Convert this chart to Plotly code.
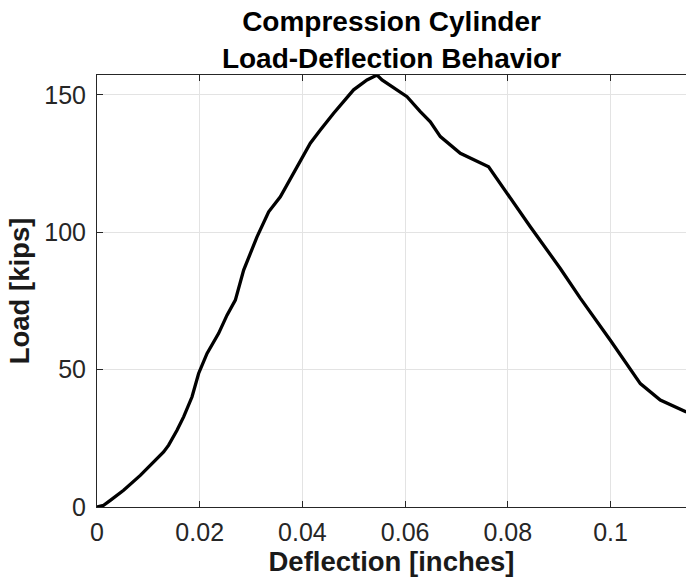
import plotly.graph_objects as go

deflection = [0.0, 0.00129, 0.00259, 0.00518, 0.00843, 0.01103, 0.01297, 0.01395,
              0.01558, 0.01687, 0.01851, 0.01979, 0.02143, 0.02369, 0.02532, 0.02694,
              0.02856, 0.03116, 0.03343, 0.03570, 0.03895, 0.04154, 0.04349, 0.04608,
              0.04997, 0.05258, 0.05453, 0.05550, 0.05745, 0.06037, 0.06296, 0.06491,
              0.06686, 0.07075, 0.07626, 0.07984, 0.08438, 0.09022, 0.09411, 0.10000,
              0.10580, 0.10969, 0.11477]
load = [0.0, 0.6, 2.4, 6.1, 11.5, 16.4, 20.0, 22.5,
        27.9, 32.8, 40.1, 48.6, 55.9, 63.2, 69.8, 75.3,
        86.2, 98.3, 107.4, 112.9, 123.8, 132.4, 137.2, 143.3,
        151.8, 155.4, 157.2, 155.4, 153.0, 149.3, 143.9, 140.2,
        134.8, 128.7, 123.8, 114.1, 102.0, 86.8, 76.0, 60.6,
        44.9, 38.9, 34.6]

x_ticks = [0, 0.02, 0.04, 0.06, 0.08, 0.1]
x_tick_labels = ["0", "0.02", "0.04", "0.06", "0.08", "0.1"]
y_ticks = [0, 50, 100, 150]
y_tick_labels = ["0", "50", "100", "150"]

fig = go.Figure()
fig.add_trace(go.Scatter(x=deflection, y=load, mode="lines",
                         line=dict(color="black", width=3.3), showlegend=False))

axis_col = "#262626"
fig.update_layout(
    width=686, height=582,
    margin=dict(l=97, r=0, t=75, b=75),
    paper_bgcolor="white", plot_bgcolor="white",
    font=dict(family="Liberation Sans, Arial, sans-serif", color=axis_col),
    title=dict(text="<b>Compression Cylinder<br>Load-Deflection Behavior</b>",
               x=0.5, xref="paper", xanchor="center",
               y=0.946, yref="container", yanchor="top",
               font=dict(size=28, color="black")),
    xaxis=dict(range=[0, 0.1147], tickvals=x_ticks, ticktext=x_tick_labels,
               showgrid=True, gridcolor="#e3e3e3", gridwidth=1,
               showline=True, linecolor=axis_col, linewidth=1, mirror="ticks",
               ticks="inside", ticklen=6, tickcolor=axis_col,
               tickfont=dict(size=25, color=axis_col), zeroline=False,
               ticklabelstandoff=3,
               title=dict(text="<b>Deflection [inches]</b>", standoff=6,
                          font=dict(size=27.5, color="#1a1a1a"))),
    yaxis=dict(range=[0, 157.2], tickvals=y_ticks, ticktext=y_tick_labels,
               showgrid=True, gridcolor="#e3e3e3", gridwidth=1,
               showline=True, linecolor=axis_col, linewidth=1,
               ticks="inside", ticklen=6, tickcolor=axis_col,
               tickfont=dict(size=25, color=axis_col), zeroline=False,
               ticklabelstandoff=5,
               title=dict(text="<b>Load [kips]</b>", standoff=6,
                          font=dict(size=27.5, color="#1a1a1a"))),
)

fig.write_html("out.html",
               config={"displayModeBar": False},
               post_script="document.body.style.margin='0';"
                           "document.body.style.overflow='hidden';")
